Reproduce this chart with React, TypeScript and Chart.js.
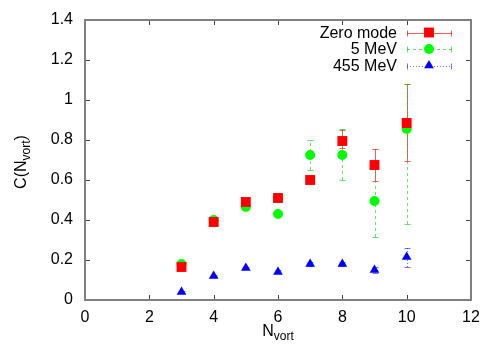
import React, { useEffect, useRef } from "react";
import { Chart, registerables } from "chart.js";

Chart.register(...registerables);

const xValues = [3, 4, 5, 6, 7, 8, 9, 10];
const zeroMode = [0.165, 0.39, 0.49, 0.51, 0.6, 0.795, 0.675, 0.885];
const zeroModeLo = [0.155, 0.38, 0.475, 0.5, 0.585, 0.76, 0.595, 0.695];
const zeroModeHi = [0.175, 0.4, 0.505, 0.52, 0.62, 0.85, 0.755, 1.08];
const mev5 = [0.18, 0.4, 0.465, 0.43, 0.725, 0.725, 0.495, 0.855];
const mev5Lo = [0.17, 0.39, 0.455, 0.42, 0.65, 0.6, 0.315, 0.38];
const mev5Hi = [0.19, 0.415, 0.48, 0.44, 0.8, 0.855, 0.68, 1.08];
const mev455 = [0.04, 0.12, 0.16, 0.14, 0.18, 0.18, 0.15, 0.215];
const mev455Lo = [0.035, 0.115, 0.155, 0.135, 0.17, 0.17, 0.135, 0.165];
const mev455Hi = [0.045, 0.125, 0.165, 0.15, 0.19, 0.19, 0.165, 0.26];
const seriesLabels = ["Zero mode", "5 MeV", "455 MeV"];
const xTicks = [0, 2, 4, 6, 8, 10, 12];
const yTicks = [0, 0.2, 0.4, 0.6, 0.8, 1, 1.2, 1.4];

const FONT = "'Liberation Sans', Arial, sans-serif";

const seriesStyle = [
  { color: "#ff0000", errColor: "rgba(255,0,0,0.65)", dash: [] as number[], point: "rect", radius: 7 },
  { color: "#00ff00", errColor: "rgba(0,210,0,0.6)", dash: [3, 3], point: "circle", radius: 5 },
  { color: "#0000ff", errColor: "rgba(0,0,255,0.55)", dash: [1, 2], point: "triangle", radius: 5.6 },
];

const errLo = [zeroModeLo, mev5Lo, mev455Lo];
const errHi = [zeroModeHi, mev5Hi, mev455Hi];

function drawMarker(ctx: CanvasRenderingContext2D, style: string, r: number, x: number, y: number) {
  ctx.beginPath();
  if (style === "rect") {
    const s = Math.SQRT1_2 * r;
    ctx.rect(x - s, y - s, 2 * s, 2 * s);
  } else if (style === "circle") {
    ctx.arc(x, y, r, 0, Math.PI * 2);
  } else {
    let rad = 0;
    ctx.moveTo(x + Math.sin(rad) * r, y - Math.cos(rad) * r);
    rad += (2 * Math.PI) / 3;
    ctx.lineTo(x + Math.sin(rad) * r, y - Math.cos(rad) * r);
    rad += (2 * Math.PI) / 3;
    ctx.lineTo(x + Math.sin(rad) * r, y - Math.cos(rad) * r);
    ctx.closePath();
  }
  ctx.fill();
}

const overlayPlugin = {
  id: "overlay",
  beforeDatasetsDraw(chart: any) {
    const { ctx, scales } = chart;
    const xs = scales.x;
    const ys = scales.y;
    ctx.save();
    for (let s = 0; s < 3; s++) {
      const st = seriesStyle[s];
      ctx.strokeStyle = st.errColor;
      ctx.lineWidth = 1;
      for (let i = 0; i < xValues.length; i++) {
        const px = Math.round(xs.getPixelForValue(xValues[i])) + 0.5;
        const y1 = ys.getPixelForValue(errLo[s][i]);
        const y2 = ys.getPixelForValue(errHi[s][i]);
        ctx.setLineDash(st.dash);
        ctx.beginPath();
        ctx.moveTo(px, y1);
        ctx.lineTo(px, y2);
        ctx.stroke();
        ctx.setLineDash([]);
        ctx.beginPath();
        ctx.moveTo(px - 3, Math.round(y1) + 0.5);
        ctx.lineTo(px + 3, Math.round(y1) + 0.5);
        ctx.moveTo(px - 3, Math.round(y2) + 0.5);
        ctx.lineTo(px + 3, Math.round(y2) + 0.5);
        ctx.stroke();
      }
    }
    ctx.restore();
  },
  afterDraw(chart: any) {
    const { ctx, chartArea, scales } = chart;
    const { left, right, top, bottom } = chartArea;
    const xs = scales.x;
    const ys = scales.y;
    ctx.save();
    // inward mirrored ticks
    ctx.strokeStyle = "#444";
    ctx.lineWidth = 1;
    ctx.beginPath();
    for (const v of yTicks) {
      const py = Math.round(ys.getPixelForValue(v)) + 0.5;
      ctx.moveTo(left, py);
      ctx.lineTo(left + 5, py);
      ctx.moveTo(right, py);
      ctx.lineTo(right - 5, py);
    }
    for (const v of xTicks) {
      const px = Math.round(xs.getPixelForValue(v)) + 0.5;
      ctx.moveTo(px, bottom);
      ctx.lineTo(px, bottom - 5);
      ctx.moveTo(px, top);
      ctx.lineTo(px, top + 5);
    }
    ctx.stroke();
    // frame
    ctx.strokeStyle = "#808080";
    ctx.lineWidth = 2;
    ctx.strokeRect(left, top, right - left, bottom - top);

    // axis titles
    ctx.fillStyle = "#000";
    ctx.textBaseline = "alphabetic";
    const xMid = (left + right) / 2;
    ctx.font = `16px ${FONT}`;
    const wN = ctx.measureText("N").width;
    ctx.font = `12px ${FONT}`;
    const wSub = ctx.measureText("vort").width;
    const startX = xMid - (wN + wSub) / 2;
    ctx.font = `16px ${FONT}`;
    ctx.textAlign = "left";
    ctx.fillText("N", startX, 336);
    ctx.font = `12px ${FONT}`;
    ctx.fillText("vort", startX + wN, 340);

    ctx.save();
    ctx.translate(26, 162);
    ctx.rotate(-Math.PI / 2);
    ctx.font = `16px ${FONT}`;
    const a = "C(N";
    const c = ")";
    const wa = ctx.measureText(a).width;
    const wc = ctx.measureText(c).width;
    ctx.font = `12px ${FONT}`;
    const wb = ctx.measureText("vort").width;
    const sx = -(wa + wb + wc) / 2;
    ctx.font = `16px ${FONT}`;
    ctx.fillText(a, sx, 0);
    ctx.font = `12px ${FONT}`;
    ctx.fillText("vort", sx + wa, 4);
    ctx.font = `16px ${FONT}`;
    ctx.fillText(c, sx + wa + wb, 0);
    ctx.restore();

    // legend
    const rowsY = [32.5, 49, 65.5];
    const textRight = 397;
    const lineL = 407;
    const lineR = 452;
    const markX = 429;
    for (let s = 0; s < 3; s++) {
      const st = seriesStyle[s];
      const y = rowsY[s];
      ctx.font = `16px ${FONT}`;
      ctx.textAlign = "right";
      ctx.textBaseline = "middle";
      ctx.fillStyle = "#000";
      ctx.fillText(seriesLabels[s], textRight, y + 1);
      ctx.strokeStyle = st.errColor;
      ctx.lineWidth = 1;
      const yy = Math.round(y) + 0.5;
      ctx.setLineDash(st.dash);
      ctx.beginPath();
      ctx.moveTo(lineL, yy);
      ctx.lineTo(lineR, yy);
      ctx.stroke();
      ctx.setLineDash([]);
      ctx.beginPath();
      ctx.moveTo(lineL + 0.5, yy - 3);
      ctx.lineTo(lineL + 0.5, yy + 3);
      ctx.moveTo(lineR - 0.5, yy - 3);
      ctx.lineTo(lineR - 0.5, yy + 3);
      ctx.stroke();
      ctx.fillStyle = st.color;
      drawMarker(ctx, st.point, st.radius, markX, y);
    }
    ctx.restore();
  },
};

export default function App() {
  const ref = useRef<HTMLCanvasElement>(null);
  useEffect(() => {
    if (!ref.current) return;
    const values = [zeroMode, mev5, mev455];
    const chart = new Chart(ref.current, {
      type: "scatter",
      data: {
        datasets: values.map((vals, s) => ({
          label: seriesLabels[s],
          data: xValues.map((x, i) => ({ x, y: vals[i] })),
          pointStyle: seriesStyle[s].point as any,
          pointRadius: seriesStyle[s].radius,
          pointBackgroundColor: seriesStyle[s].color,
          pointBorderColor: seriesStyle[s].color,
          pointBorderWidth: 0,
          showLine: false,
        })),
      },
      options: {
        animation: false,
        responsive: false,
        maintainAspectRatio: false,
        layout: { padding: { left: 0, top: 20, right: 29, bottom: 0 } },
        plugins: { legend: { display: false }, tooltip: { enabled: false } },
        scales: {
          x: {
            type: "linear",
            min: 0,
            max: 12,
            grid: { display: false },
            border: { display: false },
            afterBuildTicks: (scale: any) => {
              scale.ticks = xTicks.map((v) => ({ value: v }));
            },
            ticks: {
              font: { family: FONT, size: 16 },
              color: "#000",
              padding: 0,
              maxRotation: 0,
              callback: (v: any) => String(v),
            },
            afterFit: (scale: any) => {
              scale.height = 50;
            },
          },
          y: {
            type: "linear",
            min: 0,
            max: 1.4,
            grid: { display: false },
            border: { display: false },
            afterBuildTicks: (scale: any) => {
              scale.ticks = yTicks.map((v) => ({ value: v }));
            },
            ticks: {
              font: { family: FONT, size: 16 },
              color: "#000",
              padding: 4,
              callback: (v: any) => String(+Number(v).toFixed(1)),
            },
            afterFit: (scale: any) => {
              scale.width = 85;
            },
          },
        },
      },
      plugins: [overlayPlugin],
    });
    return () => chart.destroy();
  }, []);
  return (
    <div style={{ position: "fixed", left: 0, top: 0, width: 500, height: 350, background: "#fff" }}>
      <canvas ref={ref} width={500} height={350} style={{ width: 500, height: 350, display: "block" }} />
    </div>
  );
}
